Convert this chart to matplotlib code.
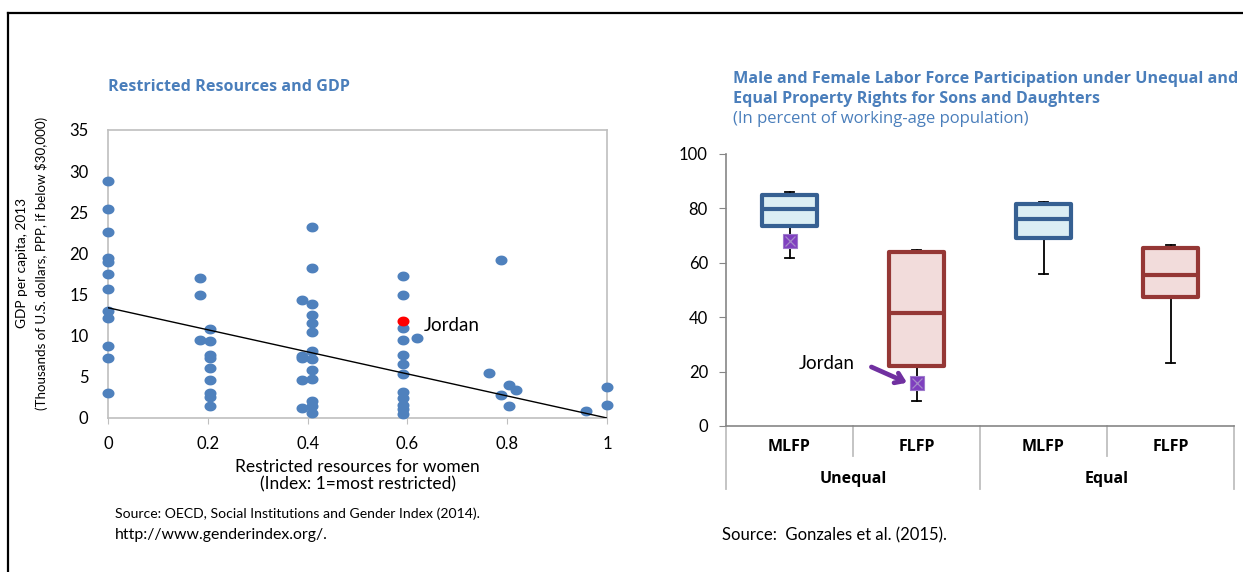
import matplotlib
matplotlib.use("Agg")
import matplotlib.pyplot as plt
import numpy as np
from matplotlib.lines import Line2D
from matplotlib.path import Path
from matplotlib.transforms import blended_transform_factory

plt.rcParams["font.family"] = ["Lato", "DejaVu Sans"]
HEAD_FONT = ["Open Sans", "DejaVu Sans"]

# ---- Left panel: restricted resources index vs GDP per capita ----
resource_index = (
    [0.0] * 12 + [0.184] * 3 + [0.205] * 9 + [0.389] * 5 + [0.408] * 13
    + [0.592] * 12 + [0.620, 0.763, 0.788, 0.788, 0.803, 0.803, 0.818, 0.958, 1.0, 1.0]
)
gdp_per_capita = (
    [28.8, 25.4, 22.6, 19.5, 18.9, 17.5, 15.7, 13.0, 12.2, 8.8, 7.3, 3.0]
    + [17.0, 15.0, 9.5]
    + [10.8, 9.4, 7.6, 7.3, 6.1, 4.6, 3.0, 2.5, 1.4]
    + [14.4, 7.5, 7.3, 4.6, 1.2]
    + [23.2, 18.2, 13.9, 12.5, 11.6, 10.4, 8.1, 7.2, 5.8, 4.7, 2.1, 1.4, 0.6]
    + [17.2, 14.9, 10.9, 9.5, 7.6, 6.6, 5.3, 3.2, 2.4, 1.6, 1.1, 0.5]
    + [9.7, 5.5, 19.2, 2.8, 4.0, 1.4, 3.4, 0.8, 3.8, 1.6]
)
jordan_index = 0.592
jordan_gdp = 11.8
trend_intercept = 13.4
trend_slope = -13.4
x_ticks = [0, 0.2, 0.4, 0.6, 0.8, 1]
x_tick_labels = ["0", "0.2", "0.4", "0.6", "0.8", "1"]
y_ticks = [0, 5, 10, 15, 20, 25, 30, 35]

# ---- Right panel: labor force participation box plot ----
box_labels = ["MLFP", "FLFP", "MLFP", "FLFP"]
group_labels = ["Unequal", "Equal"]
whisker_low = [61.9, 9.2, 55.9, 23.3]
quartile_1 = [73.5, 22.2, 69.3, 47.3]
medians = [79.6, 41.4, 76.0, 55.5]
quartile_3 = [85.1, 64.0, 81.6, 65.5]
whisker_high = [86.0, 64.7, 82.4, 66.4]
jordan_lfp = [67.9, 15.8]          # MLFP and FLFP, unequal property rights
lfp_ticks = [0, 20, 40, 60, 80, 100]

BLUE = "#4F81BD"
TITLE_BLUE = "#4A7EBB"
GRID_GREY = "#BFBFBF"
AXIS_GREY = "#868686"
PURPLE = "#7030A0"

W, H = 1243, 572
fig = plt.figure(figsize=(W / 100, H / 100), dpi=100)


def fx(px):
    return px / W


def fy(py):
    return 1 - py / H


# outer frame
fig.add_artist(Line2D([fx(8), fx(8)], [fy(13), fy(572)], color="black", lw=1.6))
fig.add_artist(Line2D([fx(8), 1.0], [fy(13), fy(13)], color="black", lw=1.6))

# ---------------- Left panel ----------------
axL = fig.add_axes([fx(108), fy(418), fx(607) - fx(108), fy(130) - fy(418)])
theta = np.linspace(0, 2 * np.pi, 40)
ellipse = Path(np.column_stack([np.cos(theta), 0.82 * np.sin(theta)]))
axL.scatter(resource_index, gdp_per_capita, s=75, marker=ellipse, color=BLUE,
            linewidths=0, zorder=3, clip_on=False)
axL.scatter([jordan_index], [jordan_gdp], s=75, marker=ellipse, color="#FF0000",
            linewidths=0, zorder=4)
xs = np.array([0.0, 1.0])
axL.plot(xs, trend_intercept + trend_slope * xs, color="black", lw=1.0, zorder=5)
axL.text(0.633, 11.3, "Jordan", fontsize=13.5, va="center", ha="left")

axL.set_xlim(0, 1)
axL.set_ylim(0, 35)
axL.set_xticks(x_ticks)
axL.set_xticklabels(x_tick_labels)
axL.set_yticks(y_ticks)
for s in axL.spines.values():
    s.set_color(GRID_GREY)
    s.set_linewidth(1.2)
axL.tick_params(axis="x", length=4, color=GRID_GREY, pad=9, labelsize=12)
axL.tick_params(axis="y", length=0, pad=14, labelsize=12)
axL.set_xlabel("Restricted resources for women\n(Index: 1=most restricted)",
               fontsize=12.5, labelpad=5, linespacing=1.1)
fig.text(fx(22), fy(263), "GDP per capita, 2013", rotation=90, fontsize=9.8,
         ha="center", va="center")
fig.text(fx(42), fy(263), "(Thousands of U.S. dollars, PPP, if below $30,000)",
         rotation=90, fontsize=9.6, ha="center", va="center")

fig.text(fx(108), fy(87), "Restricted Resources and GDP", fontsize=11.6,
         fontweight="bold", color=TITLE_BLUE, va="center", family=HEAD_FONT)
fig.text(fx(115), fy(514), "Source: OECD, Social Institutions and Gender Index (2014).",
         fontsize=10.1, va="center")
fig.text(fx(115), fy(535), "http://www.genderindex.org/.", fontsize=11.4, va="center")

# ---------------- Right panel ----------------
axR = fig.add_axes([fx(726), fy(426), fx(1234) - fx(726), fy(154) - fy(426)])
stats = []
for i in range(len(box_labels)):
    stats.append(dict(med=medians[i], q1=quartile_1[i], q3=quartile_3[i],
                      whislo=whisker_low[i], whishi=whisker_high[i], fliers=[]))
positions = np.arange(len(box_labels))
bp = axR.bxp(stats, positions=positions, widths=0.43, patch_artist=True,
             showfliers=False, capwidths=0.07,
             whiskerprops=dict(color="black", lw=1.3),
             capprops=dict(color="black", lw=1.3),
             boxprops=dict(lw=3.0, joinstyle="round"),
             medianprops=dict(lw=3.0), manage_ticks=False)
box_edges = ["#366092", "#953735", "#366092", "#953735"]
box_fills = ["#DBEEF4", "#F2DCDB", "#DBEEF4", "#F2DCDB"]
for patch, med, ec, fc in zip(bp["boxes"], bp["medians"], box_edges, box_fills):
    patch.set_facecolor(fc)
    patch.set_edgecolor(ec)
    patch.set_zorder(3)
    med.set_color(ec)
    med.set_zorder(4)
    med.set_solid_capstyle("butt")

# Jordan markers on the unequal-rights boxes
axR.plot([0, 1], jordan_lfp, ls="none", marker="s", ms=9.5, mfc="#7F3FBF",
         mec="#9E7ACB", mew=0.8, zorder=6)
axR.plot([0, 1], jordan_lfp, ls="none", marker="x", ms=7, mec="#A58BC9",
         mew=0.9, zorder=7)
axR.annotate("", xy=(0.925, 15.9), xytext=(0.645, 21.7),
             arrowprops=dict(arrowstyle="->,head_length=0.55,head_width=0.38",
                             color=PURPLE, lw=3.4, shrinkA=0, shrinkB=0),
             zorder=8)
axR.text(0.075, 23.0, "Jordan", fontsize=13.5, va="center", ha="left")

axR.set_xlim(-0.5, 3.5)
axR.set_ylim(0, 100)
axR.set_yticks(lfp_ticks)
axR.set_xticks([])
for side in ["top", "right"]:
    axR.spines[side].set_visible(False)
for side in ["left", "bottom"]:
    axR.spines[side].set_color(AXIS_GREY)
    axR.spines[side].set_linewidth(1.2)
axR.tick_params(axis="y", length=5, color=AXIS_GREY, pad=8, labelsize=12)

# two-level category axis
trans = blended_transform_factory(axR.transData, axR.transAxes)
for x in [-0.5, 1.5, 3.5]:
    axR.add_artist(Line2D([x, x], [0, -0.232], transform=trans, color=GRID_GREY,
                          lw=1.3, clip_on=False))
for x in [0.5, 2.5]:
    axR.add_artist(Line2D([x, x], [0, -0.112], transform=trans, color=GRID_GREY,
                          lw=1.3, clip_on=False))
for x, lab in zip(positions, box_labels):
    axR.text(x, -0.077, lab, transform=trans, ha="center", va="center",
             fontsize=11.5, fontweight="bold", family=HEAD_FONT)
for x, lab in zip([0.5, 2.5], group_labels):
    axR.text(x, -0.195, lab, transform=trans, ha="center", va="center",
             fontsize=11.5, fontweight="bold", family=HEAD_FONT)

fig.text(fx(733), fy(79), "Male and Female Labor Force Participation under Unequal and",
         fontsize=11.6, fontweight="bold", color=TITLE_BLUE, va="center",
         family=HEAD_FONT)
fig.text(fx(733), fy(99), "Equal Property Rights for Sons and Daughters",
         fontsize=11.6, fontweight="bold", color=TITLE_BLUE, va="center",
         family=HEAD_FONT)
fig.text(fx(733), fy(119), "(In percent of working-age population)",
         fontsize=12, color=TITLE_BLUE, va="center", family=HEAD_FONT)
fig.text(fx(722), fy(535), "Source:  Gonzales et al. (2015).", fontsize=12,
         va="center")

fig.savefig("out.png", dpi=100)
